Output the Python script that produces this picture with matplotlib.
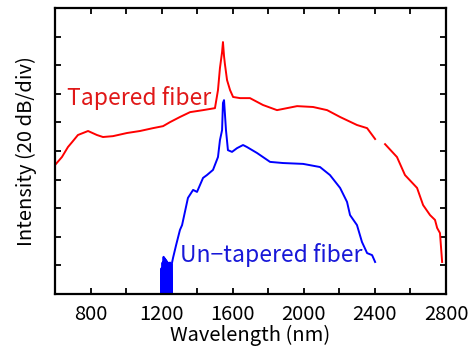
import numpy as np
import matplotlib
matplotlib.use("Agg")
import matplotlib.pyplot as plt

plt.rcParams['font.family'] = ['Noto Sans CJK JP', 'DejaVu Sans']

# wavelength in nm, intensity in divisions (20 dB/div); NaN = gap in trace
red_nm = [600, 639, 673, 696, 729, 786, 836, 870, 926, 1005, 1078, 1151, 1208,
          1247, 1303, 1360, 1433, 1500, 1517, 1528, 1540, 1545, 1551, 1556, 1568,
          1585, 1602, 1641, 1697, 1770, 1849, 1962, 2052, 2131, 2204, 2299, 2356,
          2401, 2430, 2457, 2524, 2569, 2637, 2671, 2710, 2738, 2750, 2766, 2778]
red_db = [4.51, 4.79, 5.14, 5.31, 5.56, 5.70, 5.56, 5.49, 5.52, 5.63, 5.70, 5.80, 5.87,
          6.01, 6.19, 6.36, 6.43, 6.50, 7.13, 7.90, 8.46, 8.81, 8.32, 8.04, 7.48,
          7.13, 6.89, 6.85, 6.85, 6.61, 6.43, 6.57, 6.54, 6.43, 6.19, 5.91, 5.80,
          5.42, np.nan, 5.24, 4.79, 4.16, 3.71, 3.11, 2.76, 2.59, 2.31, 2.13, 1.12]

blue_nm = [1196, 1199, 1202, 1205, 1208, 1211, 1214, 1217, 1220, 1223, 1226, 1229,
           1232, 1235, 1238, 1241, 1244, 1247, 1250, 1253, 1256, 1258,
           1264, 1281, 1303, 1315, 1348, 1377, 1399, 1433, 1455, 1489, 1517, 1528,
           1540, 1545, 1551, 1562, 1573, 1596, 1624, 1658, 1680, 1737, 1810, 1883,
           1996, 2091, 2147, 2204, 2243, 2260, 2299, 2327, 2356, 2384, 2401]
blue_db = [-0.5, 0.9, -0.5, 1.1, -0.5, 1.3, -0.5, 1.25, -0.5, 1.2, -0.5, 1.15,
           -0.5, 1.1, -0.5, 1.05, -0.5, 1.1, -0.5, 1.05, -0.5, 1.08,
           1.26, 1.7, 2.24, 2.41, 3.36, 3.64, 3.57, 4.06, 4.16, 4.34, 4.79, 5.38,
           5.73, 6.68, 6.78, 5.73, 5.03, 4.97, 5.10, 5.21, 5.14, 4.93, 4.62, 4.58,
           4.55, 4.44, 4.16, 3.71, 3.22, 2.76, 2.41, 1.82, 1.43, 1.36, 1.12]

fig = plt.figure(figsize=(4.7, 3.5), dpi=100)
ax = fig.add_axes([0.117, 0.16, 0.832, 0.817])

ax.plot(red_nm, red_db, color='#ff0000', lw=1.4)
ax.plot(blue_nm, blue_db, color='#0000ff', lw=1.4)

ax.text(665, 6.85, 'Tapered fiber', color='#e01818', fontsize=16.5, va='center', ha='left')
ax.text(1305, 1.36, 'Un\u2212tapered fiber', color='#1818d8', fontsize=16.5,
        va='center', ha='left')

ax.set_xlim(600, 2800)
ax.set_ylim(0, 10)
ax.set_xticks([800, 1200, 1600, 2000, 2400, 2800])
ax.set_xticks(np.arange(600, 2801, 200), minor=True)
ax.set_yticks(np.arange(0, 11, 1))
ax.set_yticklabels([])
ax.tick_params(which='both', direction='in', top=True, right=True, width=1.3, length=4,
               labelsize=14.5, pad=7)
for s in ax.spines.values():
    s.set_linewidth(1.6)

ax.set_xlabel('Wavelength (nm)', fontsize=14.5, labelpad=0)
ax.set_ylabel('Intensity (20 dB/div)', fontsize=14.5, labelpad=6)

fig.savefig('out.png', dpi=100)
